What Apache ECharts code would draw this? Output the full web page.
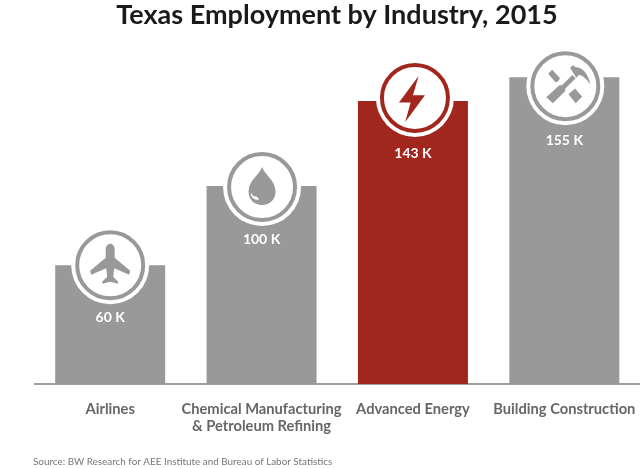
<!DOCTYPE html>
<html>
<head>
<meta charset="utf-8">
<style>html,body{margin:0;padding:0;background:#fff}#main{width:640px;height:468px}</style>
<script src="https://cdn.jsdelivr.net/npm/echarts@6/dist/echarts.min.js"></script>
</head>
<body>
<div id="main"></div>
<script>
const categories = ['Airlines', 'Chemical Manufacturing\n& Petroleum Refining', 'Advanced Energy', 'Building Construction'];
const employment = [60, 100, 143, 155];
const valueLabels = ['60 K', '100 K', '143 K', '155 K'];

const GREY = '#999999';
const RED = '#a1261d';
const barColors = [GREY, GREY, RED, GREY];
// badge centre relative to the bar top, in px
const badgeDx = [0, 0.5, 2, 1];
const badgeDy = [0, 1, -3, 9];
const labelDist = [45, 46, 46, 56];

// icon glyphs, with their box [dx, dy, w, h] relative to the badge centre
const iconPaths = [
  'M20 0C22.5 0 24.5 2.5 24.5 6L24.5 14L40 27L39 31L24 24.5L23 33L28 38L28 40L20 38L12 40L12 38L17 33L16 24.5L1 31L0 27L15.5 14L15.5 6C15.5 2.5 17.5 0 20 0Z',
  'M126 65C135 90 167 105 167 140C167 165 148 180 126 180C104 180 85 165 85 140C85 105 117 90 126 65ZM92 141C90 155 102 166 116 164C116 158 112 154 106 154C99 154 95 148 92 141Z',
  'M207 90L148 170L183 170L167 228L226 148L190 148Z',
  'M66 80L78 68L102 94L96 104L88 106ZM133 62L142 54L150 60C170 60 188 78 195 112C180 92 170 84 160 84L152 92ZM60 152L100 115L108 115L140 84L150 94L118 126L118 133L80 170ZM128 143L148 125L170 150L150 170Z'
];
const iconBoxes = [
  [-20, -21.5, 40, 40],
  [-13.5, -20, 27, 38],
  [-16, -22, 26, 46],
  [-19, -21, 44, 38]
];

const chart = echarts.init(document.getElementById('main'), null, { renderer: 'canvas' });

chart.setOption({
  animation: false,
  title: {
    text: 'Texas Employment by Industry, 2015',
    left: 332,
    top: -3,
    textAlign: 'center',
    textStyle: { fontFamily: 'Lato', fontWeight: 'bold', fontSize: 27, color: '#1a1a1a' }
  },
  graphic: [{
    type: 'text',
    left: 33,
    top: 457,
    style: { text: 'Source: BW Research for AEE Institute and Bureau of Labor Statistics', fontFamily: 'Lato', fontSize: 9.9, fill: '#777777' }
  }],
  grid: { left: 34.5, right: 0, top: 0, bottom: 84 },
  xAxis: {
    type: 'category',
    data: categories,
    offset: 2.5,
    axisTick: { show: false },
    axisLine: { lineStyle: { color: '#7f7f7f', width: 1.5 } },
    axisLabel: { interval: 0, margin: 14, fontFamily: 'Lato', fontWeight: 'bold', fontSize: 14.7, lineHeight: 17, color: '#666666' }
  },
  yAxis: { type: 'value', min: 0, max: 194, show: false },
  series: [{
    type: 'bar',
    z: 2,
    barWidth: 110,
    data: employment.map((v, i) => ({
      value: v,
      itemStyle: { color: barColors[i] },
      label: { distance: labelDist[i] }
    })),
    label: {
      show: true,
      position: 'insideTop',
      formatter: p => valueLabels[p.dataIndex],
      fontFamily: 'Lato',
      fontWeight: 'bold',
      fontSize: 14,
      color: '#ffffff'
    }
  }, {
    type: 'custom',
    z: 5,
    data: employment.map((v, i) => [i, v]),
    renderItem: (params, api) => {
      const i = params.dataIndex;
      const pt = api.coord([api.value(0), api.value(1)]);
      const cx = pt[0] + badgeDx[i];
      const cy = pt[1] + badgeDy[i];
      const color = barColors[i];
      const box = iconBoxes[i];
      return {
        type: 'group',
        children: [
          { type: 'circle', shape: { cx, cy, r: 39 }, style: { fill: '#ffffff' } },
          { type: 'circle', shape: { cx, cy, r: 33 }, style: { fill: '#ffffff', stroke: color, lineWidth: 4 } },
          {
            type: 'path',
            shape: { pathData: iconPaths[i], x: cx + box[0], y: cy + box[1], width: box[2], height: box[3], layout: 'cover' },
            style: { fill: color }
          }
        ]
      };
    }
  }]
});
</script>
</body>
</html>
